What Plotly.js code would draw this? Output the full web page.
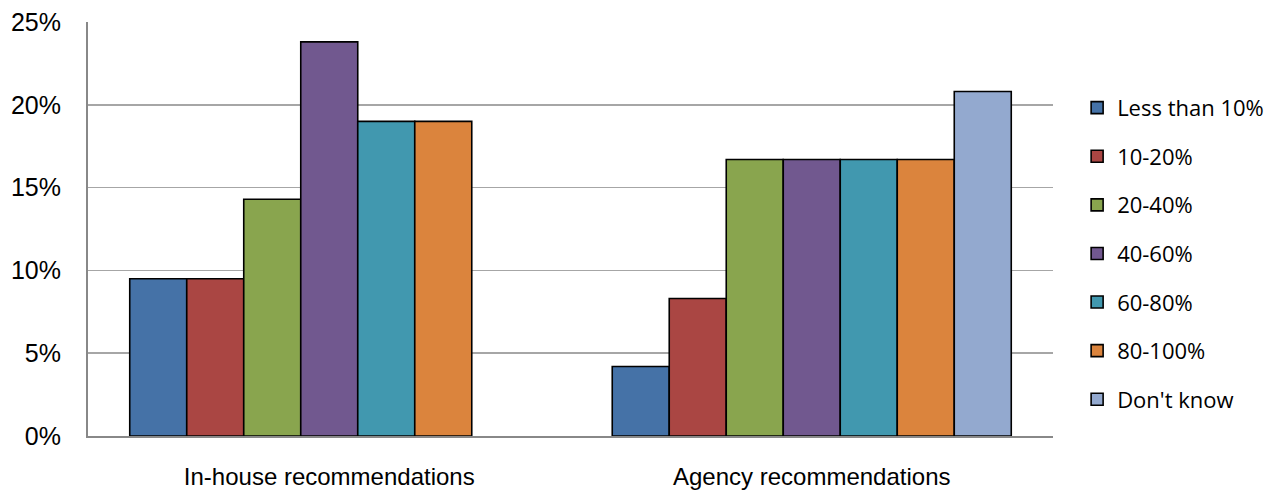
<!DOCTYPE html>
<html>
<head>
<meta charset="utf-8">
<script src="https://cdn.plot.ly/plotly-3.0.1.min.js"></script>
<style>html,body{margin:0;padding:0;background:#fff;}#chart{width:1285px;height:491px;}</style>
</head>
<body>
<div id="chart"></div>
<script>
// Share of respondents by proportion of recommendations, grouped by source
const categories = ["In-house recommendations", "Agency recommendations"];
const seriesNames = ["Less than 10%", "10-20%", "20-40%", "40-60%", "60-80%", "80-100%", "Don't know"];
const lessThan10 = [9.5, 4.2];
const pct10to20 = [9.5, 8.3];
const pct20to40 = [14.3, 16.7];
const pct40to60 = [23.8, 16.7];
const pct60to80 = [19.0, 16.7];
const pct80to100 = [19.0, 16.7];
const dontKnow = [null, 20.8];
const yTicks = [0, 5, 10, 15, 20, 25];

const seriesValues = [lessThan10, pct10to20, pct20to40, pct40to60, pct60to80, pct80to100, dontKnow];
const colors = ["#4572A7", "#AA4643", "#89A54E", "#71588F", "#4198AF", "#DB843D", "#93A9CF"];

const traces = seriesNames.map((name, i) => ({
  type: "bar",
  name: name,
  x: categories,
  y: seriesValues[i],
  legendgroup: "g" + i,
  marker: { color: colors[i], line: { color: "#000", width: 1.6 } },
  hoverinfo: "x+y+name"
}));

const layout = {
  width: 1285,
  height: 491,
  margin: { l: 88, r: 232, t: 22, b: 55 },
  paper_bgcolor: "#fff",
  plot_bgcolor: "#fff",
  barmode: "group",
  bargap: 0.173,
  bargroupgap: 0,
  font: { family: "Liberation Sans", color: "#000" },
  xaxis: {
    showline: true,
    linecolor: "#888",
    linewidth: 2,
    showgrid: false,
    ticks: "",
    ticklabelstandoff: 18,
    tickfont: { size: 24, family: "Liberation Sans", color: "#000" }
  },
  yaxis: {
    range: [0, 25],
    tickvals: yTicks,
    ticktext: yTicks.map(v => v + "%"),
    showline: true,
    linecolor: "#888",
    linewidth: 2,
    showgrid: true,
    gridcolor: "#a6a6a6",
    gridwidth: 1.5,
    zeroline: false,
    ticks: "",
    ticklabelstandoff: 20,
    tickfont: { size: 25, family: "Liberation Sans", color: "#000" }
  },
  showlegend: true,
  legend: {
    x: 1.025,
    xanchor: "left",
    y: 0.44,
    yanchor: "middle",
    traceorder: "grouped",
    tracegroupgap: 17,
    font: { size: 22, family: "Open Sans", color: "#000" },
    bgcolor: "rgba(0,0,0,0)",
    borderwidth: 0
  }
};

Plotly.newPlot("chart", traces, layout, { displayModeBar: false, staticPlot: true });
</script>
</body>
</html>
